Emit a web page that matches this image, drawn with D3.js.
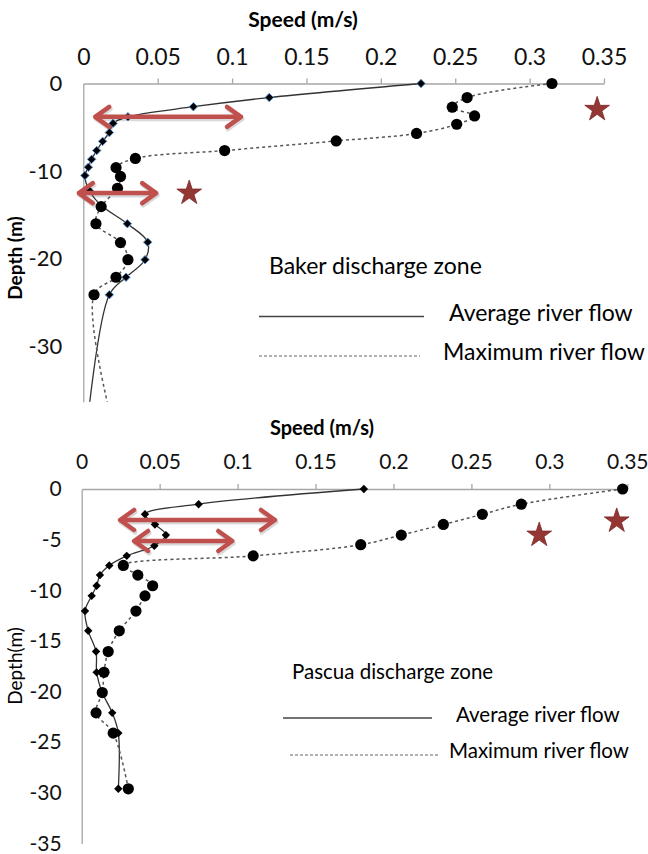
<!DOCTYPE html>
<html>
<head>
<meta charset="utf-8">
<script src="https://cdn.jsdelivr.net/npm/d3@7"></script>
<style>
  body { margin: 0; background: #fff; }
  svg { font-family: Lato, "Open Sans", sans-serif; }
</style>
</head>
<body>
<svg width="648" height="854"></svg>
<script>
// Baker discharge zone (top panel)
const bakerAvgDepth = [0, -1.6, -2.65, -3.8, -4.55, -5.6, -6.6, -7.65, -8.65, -9.55, -10.5, -12.2, -13.9, -16, -18.1, -20.1, -22.1, -24.1, -40];
const bakerAvgSpeed = [0.227, 0.125, 0.074, 0.030, 0.020, 0.0175, 0.013, 0.009, 0.0056, 0.0034, 0.0011, 0.004, 0.012, 0.0296, 0.0433, 0.0415, 0.0287, 0.0175, 0.002];
const bakerMaxDepth = [0, -1.6, -2.7, -3.7, -4.65, -5.7, -6.55, -7.65, -8.55, -9.6, -10.6, -11.95, -14.05, -16, -18.15, -20.1, -22.1, -24.1, -40];
const bakerMaxSpeed = [0.315, 0.258, 0.248, 0.263, 0.251, 0.224, 0.170, 0.095, 0.035, 0.022, 0.025, 0.023, 0.012, 0.0085, 0.025, 0.030, 0.022, 0.0072, 0.0213];
const bakerArrows = [[0.008, 0.106, -3.8], [-0.003, 0.049, -12.5]];   // [from, to, depth]
const bakerStars = [[0.3454, -2.95], [0.0712, -12.5]];                 // [speed, depth]

// Pascua discharge zone (bottom panel)
const pascuaAvgDepth = [0, -1.5, -2.5, -3.5, -4.55, -5.6, -6.6, -7.55, -8.5, -9.55, -10.55, -12.05, -14, -16.05, -18.1, -20.1, -22.1, -24.1, -29.6];
const pascuaAvgSpeed = [0.181, 0.075, 0.0406, 0.047, 0.054, 0.0466, 0.0289, 0.0177, 0.0117, 0.0096, 0.0064, 0.0021, 0.0042, 0.0092, 0.0096, 0.0132, 0.0196, 0.0235, 0.0235];
const pascuaMaxDepth = [0, -1.5, -2.5, -3.5, -4.55, -5.5, -6.6, -7.55, -8.5, -9.55, -10.55, -12.05, -14, -16.05, -18.1, -20.1, -22.1, -24.1, -29.6];
const pascuaMaxSpeed = [0.347, 0.282, 0.257, 0.232, 0.205, 0.179, 0.110, 0.0267, 0.036, 0.0455, 0.0406, 0.0348, 0.0241, 0.017, 0.0143, 0.0132, 0.0092, 0.0202, 0.0299];
const pascuaArrows = [[0.0246, 0.124, -3.06], [0.0336, 0.0966, -5.13]];
const pascuaStars = [[0.2935, -4.55], [0.3432, -3.15]];

const speedTicks = [0, 0.05, 0.1, 0.15, 0.2, 0.25, 0.3, 0.35];
const bakerDepthTicks = [0, -10, -20, -30];
const pascuaDepthTicks = [0, -5, -10, -15, -20, -25, -30, -35];
const legendLabels = ["Average river flow", "Maximum river flow"];

let svg = d3.select("svg");

const arrowColor = "#c0504d",
    starColor = "#943634",
    axisColor = "#a6a6a6";

function zip(xs, ys) {
    return xs.map(function (v, i) { return {speed: v, depth: ys[i]}; });
}

function diamond(r) {
    return "M0," + (-r) + "L" + r + ",0L0," + r + "L" + (-r) + ",0Z";
}

function drawPanel(p) {
    let g = svg.append("g");
    let x = d3.scaleLinear().domain([0, 0.35]).range(p.xRange);
    let y = d3.scaleLinear().domain(p.yDomain).range(p.yRange);

    g.append("clipPath").attr("id", p.id + "-clip")
        .append("rect")
        .attr("x", p.xRange[0] - 10).attr("y", p.yRange[0] - 10)
        .attr("width", p.xRange[1] - p.xRange[0] + 30)
        .attr("height", p.yRange[1] - p.yRange[0] + 10);

    // axes
    let xAxis = g.append("g")
        .attr("transform", "translate(0," + y(0) + ")")
        .call(d3.axisTop(x).tickValues(speedTicks).tickSize(5).tickSizeOuter(0)
            .tickPadding(p.xPad).tickFormat(d3.format("~g")));
    let yAxis = g.append("g")
        .attr("transform", "translate(" + x(0) + ",0)")
        .call(d3.axisLeft(y).tickValues(p.yTicks).tickSize(0).tickPadding(p.yPad)
            .tickFormat(function (d) { return String(d); }));
    xAxis.attr("font-size", p.xTickFont).attr("font-family", null);
    yAxis.attr("font-size", p.yTickFont).attr("font-family", null);
    [xAxis, yAxis].forEach(function (a) {
        a.selectAll("path, line").attr("stroke", axisColor).attr("stroke-width", 1.3);
        a.selectAll("text").attr("fill", "#111");
    });
    xAxis.selectAll(".tick").filter(function (d) { return d === 0; }).select("line").remove();

    g.append("text")
        .attr("x", p.xTitle[0]).attr("y", p.xTitle[1])
        .attr("text-anchor", "middle")
        .style("font-size", p.titleFont + "px").style("font-weight", "bold")
        .text("Speed (m/s)");
    g.append("text")
        .attr("transform", "translate(" + p.yTitle[0] + "," + p.yTitle[1] + ") rotate(-90)")
        .attr("text-anchor", "middle")
        .style("font-size", "19px").style("font-weight", p.yTitleWeight)
        .text(p.yTitleText);

    // series
    let plot = g.append("g").attr("clip-path", "url(#" + p.id + "-clip)");
    let line = d3.line()
        .x(function (d) { return x(d.speed); })
        .y(function (d) { return y(d.depth); })
        .curve(d3.curveCatmullRom.alpha(0.5));

    let avg = zip(p.avgSpeed, p.avgDepth),
        max = zip(p.maxSpeed, p.maxDepth);

    plot.append("path").datum(avg).attr("d", line)
        .attr("fill", "none").attr("stroke", "#333").attr("stroke-width", 1.3);
    plot.append("path").datum(max).attr("d", line)
        .attr("fill", "none").attr("stroke", "#555").attr("stroke-width", 1.5)
        .attr("stroke-dasharray", "3,3");

    plot.selectAll(".dia").data(avg).enter().append("path")
        .attr("class", "dia")
        .attr("transform", function (d) { return "translate(" + x(d.speed) + "," + y(d.depth) + ")"; })
        .attr("d", diamond(4.2))
        .attr("fill", "#000")
        .attr("stroke", p.diaStroke).attr("stroke-width", 1);

    plot.selectAll(".dot").data(max).enter().append("circle")
        .attr("class", "dot")
        .attr("cx", function (d) { return x(d.speed); })
        .attr("cy", function (d) { return y(d.depth); })
        .attr("r", 5.6)
        .attr("fill", "#000");

    // annotations
    p.arrows.forEach(function (a) {
        let x1 = x(a[0]), x2 = x(a[1]), yy = y(a[2]);
        let path = "M" + x1 + "," + yy + "L" + x2 + "," + yy +
            "M" + (x1 + 14) + "," + (yy - 10) + "L" + x1 + "," + yy + "L" + (x1 + 14) + "," + (yy + 10) +
            "M" + (x2 - 14) + "," + (yy - 10) + "L" + x2 + "," + yy + "L" + (x2 - 14) + "," + (yy + 10);
        g.append("path").attr("d", path)
            .attr("transform", "translate(1,2)")
            .attr("fill", "none").attr("stroke", "#000").attr("stroke-opacity", 0.15)
            .attr("stroke-width", 5).attr("stroke-linecap", "round").attr("stroke-linejoin", "round");
        g.append("path").attr("d", path)
            .attr("fill", "none").attr("stroke", arrowColor)
            .attr("stroke-width", 4.5).attr("stroke-linecap", "round").attr("stroke-linejoin", "round");
    });

    g.selectAll(".star").data(p.stars).enter().append("path")
        .attr("class", "star")
        .attr("transform", function (d) { return "translate(" + x(d[0]) + "," + y(d[1]) + ")"; })
        .attr("d", d3.symbol(d3.symbolStar, 190))
        .attr("fill", starColor).attr("stroke", "#7a2a28").attr("stroke-width", 0.8);

    // legend
    let leg = g.append("g");
    leg.append("text")
        .attr("x", p.legTitle[0]).attr("y", p.legTitle[1]).attr("dy", "0.35em")
        .style("font-size", p.legFont + "px")
        .text(p.zoneName);
    p.legRows.forEach(function (r, i) {
        leg.append("line")
            .attr("x1", r[0]).attr("x2", r[1]).attr("y1", r[2]).attr("y2", r[2])
            .attr("stroke", i === 0 ? "#444" : "#666").attr("stroke-width", i === 0 ? 1.6 : 1.2)
            .attr("stroke-dasharray", i === 0 ? null : "3,2");
        leg.append("text")
            .attr("x", r[3]).attr("y", r[4]).attr("dy", "0.35em")
            .style("font-size", p.legFont + "px")
            .text(legendLabels[i]);
    });
}

drawPanel({
    id: "baker",
    xRange: [83.3, 604], yDomain: [0, -36.3], yRange: [83.5, 401.7],
    yTicks: bakerDepthTicks, xPad: 14, yPad: 21, xTickFont: 23, yTickFont: 22, titleFont: 21,
    xTitle: [303, 27], yTitle: [22, 258], yTitleText: "Depth (m)", yTitleWeight: "bold",
    avgSpeed: bakerAvgSpeed, avgDepth: bakerAvgDepth,
    maxSpeed: bakerMaxSpeed, maxDepth: bakerMaxDepth,
    diaStroke: "#5b8fd0",
    arrows: bakerArrows, stars: bakerStars,
    zoneName: "Baker discharge zone", legFont: 23,
    legTitle: [269, 266],
    legRows: [[259, 424, 316.5, 449, 313], [259, 420, 356, 443, 351.5]]
});

drawPanel({
    id: "pascua",
    xRange: [81.7, 627.3], yDomain: [0, -35], yRange: [489, 843.5],
    yTicks: pascuaDepthTicks, xPad: 15, yPad: 20, xTickFont: 21, yTickFont: 21, titleFont: 20,
    xTitle: [322, 435], yTitle: [22, 666], yTitleText: "Depth(m)", yTitleWeight: "normal",
    avgSpeed: pascuaAvgSpeed, avgDepth: pascuaAvgDepth,
    maxSpeed: pascuaMaxSpeed, maxDepth: pascuaMaxDepth,
    diaStroke: "none",
    arrows: pascuaArrows, stars: pascuaStars,
    zoneName: "Pascua discharge zone", legFont: 20.5,
    legTitle: [292, 672],
    legRows: [[283, 432, 718, 456, 715], [290, 438, 755, 449, 751]]
});
</script>
</body>
</html>
